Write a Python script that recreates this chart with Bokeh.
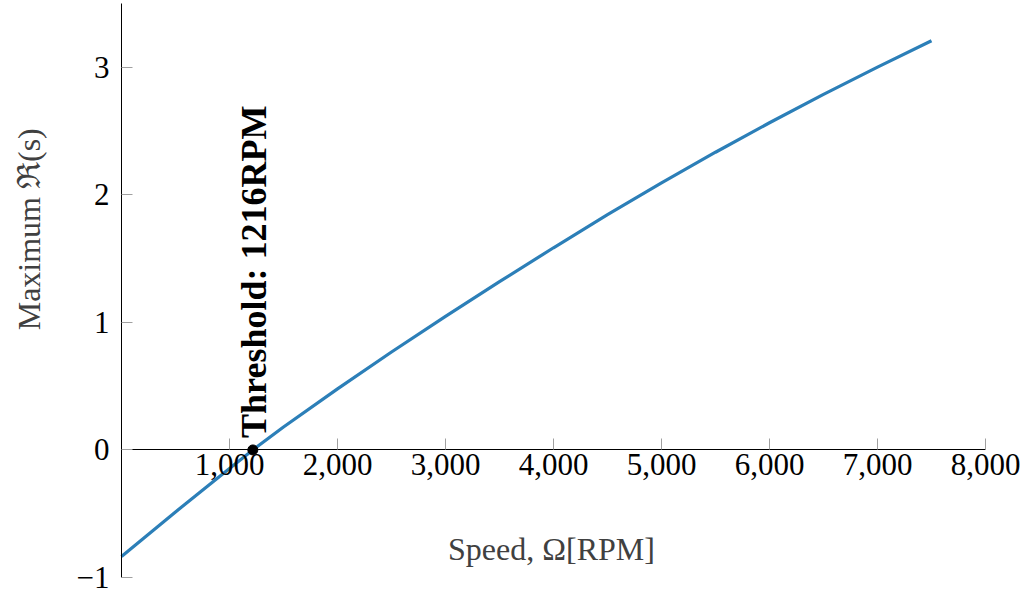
from bokeh.plotting import figure
from bokeh.models import (LinearAxis, FixedTicker, NumeralTickFormatter, Label,
                          Range1d, ColumnDataSource)
from bokeh.embed import file_html
from bokeh.resources import INLINE

# ---- data ----
speed_rpm = [0, 500, 1000, 1216, 1500, 2000, 2500, 3000, 3500, 4000, 4500,
             5000, 5500, 6000, 6500, 7000, 7500]
max_real_s = [-0.836, -0.486, -0.145, 0.0, 0.18, 0.479, 0.768, 1.047, 1.319,
              1.585, 1.844, 2.094, 2.334, 2.565, 2.787, 3.001, 3.208]
threshold_rpm = [1216]
threshold_val = [0.0]
x_ticks = [1000, 2000, 3000, 4000, 5000, 6000, 7000, 8000]
y_ticks = [-1, 0, 1, 2, 3]
x_bounds = (0, 8000)
y_bounds = (-1, 3.5)

FONT = "Liberation Serif"
TICK_SIZE = "31px"
LABEL_SIZE = "32px"

p = figure(width=1026, height=595, output_backend="svg", toolbar_location=None,
           x_range=Range1d(-1120.4, 8379.6), y_range=Range1d(-1.1411, 3.5235),
           x_axis_location=None, y_axis_location=None,
           min_border_left=0, min_border_right=0,
           min_border_top=0, min_border_bottom=0)
p.outline_line_color = None
p.grid.visible = False
p.background_fill_color = "white"
p.border_fill_color = "white"

# y axis fixed at x = 0
yax = LinearAxis(ticker=FixedTicker(ticks=y_ticks), fixed_location=0,
                 bounds=y_bounds)
yax.major_label_overrides = {-1: "\u22121"}
yax.axis_line_color = "black"
yax.axis_line_width = 1
yax.major_tick_in = 11
yax.major_tick_out = 0
yax.major_tick_line_color = "#a0a0a0"
yax.minor_tick_line_color = None
yax.major_label_standoff = 12
yax.major_label_text_font = FONT
yax.major_label_text_font_size = TICK_SIZE
yax.major_label_text_color = "black"
p.add_layout(yax, "left")

# x axis fixed at y = 0
xax = LinearAxis(ticker=FixedTicker(ticks=x_ticks), fixed_location=0,
                 bounds=x_bounds)
xax.formatter = NumeralTickFormatter(format="0,0")
xax.axis_line_color = "black"
xax.axis_line_width = 1
xax.major_tick_in = 11
xax.major_tick_out = 0
xax.major_tick_line_color = "#a0a0a0"
xax.minor_tick_line_color = None
xax.major_label_standoff = 4
xax.major_label_text_font = FONT
xax.major_label_text_font_size = TICK_SIZE
xax.major_label_text_color = "black"
p.add_layout(xax, "below")

# curve
src = ColumnDataSource(dict(x=speed_rpm, y=max_real_s))
p.line("x", "y", source=src, line_color="#2c7fb8", line_width=3.2)

# threshold marker
p.scatter(threshold_rpm, threshold_val, size=10, color="black")
p.add_layout(Label(x=threshold_rpm[0], y=threshold_val[0],
                   text="Threshold:  %dRPM" % threshold_rpm[0],
                   angle=1.5707963, angle_units="rad",
                   text_align="left", text_baseline="middle",
                   x_offset=1, y_offset=12,
                   text_font=FONT, text_font_style="bold",
                   text_font_size="36px", text_color="black"))

# axis titles
p.add_layout(Label(x=3981, y=-0.78, text="Speed, \u03a9[RPM]",
                   text_align="center", text_baseline="middle",
                   text_font=FONT, text_font_size=LABEL_SIZE, text_color="#404040"))
p.add_layout(Label(x=-852, y=1.73, text="Maximum \u211c(s)",
                   angle=1.5707963, angle_units="rad",
                   text_align="center", text_baseline="middle",
                   text_font=FONT, text_font_size=LABEL_SIZE, text_color="#404040"))

open("out.html", "w").write(file_html(p, INLINE))
